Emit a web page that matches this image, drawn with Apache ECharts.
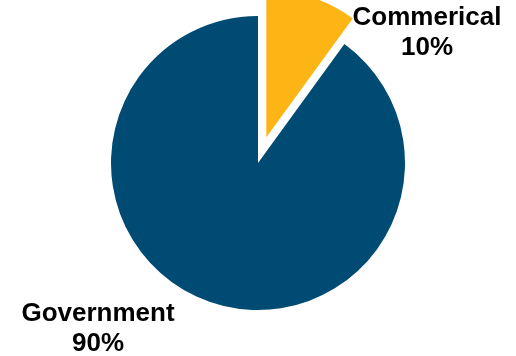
<!DOCTYPE html>
<html><head><meta charset="utf-8">
<script src="https://cdn.jsdelivr.net/npm/echarts@6/dist/echarts.min.js"></script>
<style>html,body{margin:0;padding:0;background:#fff}#c{width:516px;height:356px}</style>
</head><body><div id="c"></div>
<script>
const categories = ['Commerical', 'Government'];
const values = [10, 90];
const colors = ['#FDB515', '#004B73'];
const labelPos = [[427, 33], [98, 329]];
const chart = echarts.init(document.getElementById('c'), null, {renderer: 'canvas'});
chart.setOption({
  animation: false,
  graphic: categories.map((c, i) => ({
    type: 'text',
    x: labelPos[i][0],
    y: labelPos[i][1],
    style: {
      text: c + '\n' + values[i] + '%',
      fontFamily: 'Liberation Sans, Arial, sans-serif',
      fontWeight: 'bold',
      fontSize: 26,
      lineHeight: 30,
      fill: '#000',
      align: 'center',
      verticalAlign: 'middle'
    }
  })),
  series: [{
    type: 'pie',
    center: [258, 163],
    radius: [0, 147],
    startAngle: 90,
    clockwise: true,
    selectedMode: 'single',
    selectedOffset: 27,
    data: categories.map((c, i) => ({name: c, value: values[i], selected: i === 0, itemStyle: {color: colors[i]}})),
    label: {show: false},
    labelLine: {show: false}
  }]
});
</script></body></html>
